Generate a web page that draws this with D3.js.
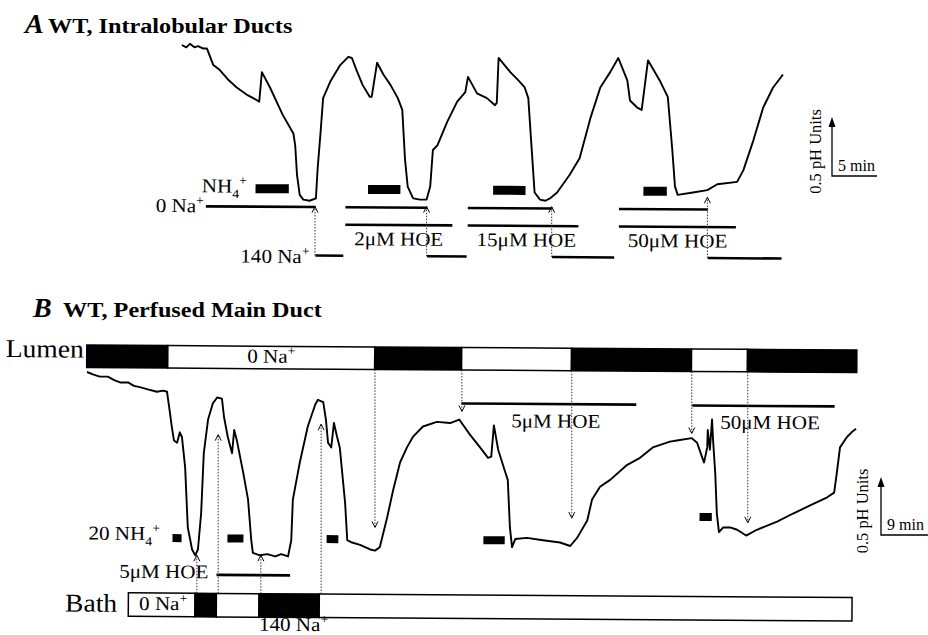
<!DOCTYPE html>
<html>
<head>
<meta charset="utf-8">
<title>WT pHi traces</title>
<script src="https://cdn.jsdelivr.net/npm/d3@7"></script>
<style>
  body { margin: 0; background: #fff; }
  svg text { font-family: "Liberation Serif", "DejaVu Serif", serif; fill: #000; }
</style>
</head>
<body>
<script>
// ---- panel A: intralobular ducts (time in min, pHi)
var timeA = [0.2,0.7,1.1,1.6,2.0,2.6,3.0,3.7,4.4,5.3,6.3,7.4,8.6,8.8,9.1,10.0,11.4,12.6,12.8,13.0,13.3,13.7,14.4,15.1,15.3,15.6,15.9,16.7,17.8,18.7,19.1,19.7,20.3,21.1,21.3,21.9,22.6,23.4,24.2,24.7,25.0,25.3,25.9,26.7,27.4,27.8,28.1,28.6,29.7,30.8,31.7,32.0,33.0,34.1,35.0,35.2,35.4,36.7,37.6,38.3,38.7,39.1,39.4,40.0,40.6,41.1,41.9,43.3,44.4,45.6,46.7,47.8,48.7,49.7,50.0,50.8,51.3,52.0,53.3,54.2,54.7,55.0,55.3,57.0,58.6,59.7,61.9,62.6,63.7,64.8,65.9,67.0];
var phA = [7.60,7.58,7.61,7.58,7.59,7.57,7.57,7.43,7.39,7.31,7.24,7.18,7.13,7.12,7.37,7.24,7.01,6.85,6.75,6.50,6.33,6.29,6.28,6.30,6.56,6.84,7.15,7.29,7.43,7.50,7.49,7.37,7.26,7.16,7.16,7.45,7.35,7.26,7.15,7.05,6.63,6.40,6.30,6.29,6.29,6.40,6.71,6.75,6.95,7.12,7.20,7.33,7.19,7.15,7.09,7.11,7.49,7.37,7.30,7.24,7.15,6.69,6.35,6.29,6.28,6.30,6.35,6.50,6.64,6.98,7.24,7.37,7.49,7.30,7.13,7.07,7.05,7.47,7.30,7.16,6.71,6.40,6.33,6.35,6.37,6.42,6.44,6.54,6.79,7.07,7.24,7.35];
var nh4A = [[8.3,12.0],[20.8,24.4],[34.7,38.3],[51.4,54.0]];
var naZeroA = [[2.8,15.0],[18.3,27.4],[31.9,41.3],[48.7,58.6]];
var hoeA = [[18.3,30.2],[31.9,44.2],[48.7,61.7]];
var hoeLabelA = ["2", "15", "50"];
var na140A = [[15.0,18.1],[27.4,31.8],[41.3,48.2],[58.6,66.8]];
var arrowTimeA = [15.0,27.4,41.3,58.6];
var arrowTipA = [6.23,6.23,6.23,6.31];

// ---- panel B: perfused main duct
var timeB = [0,1.1,2.4,3.9,5.1,6.2,7.7,8.8,9.9,11.4,13.1,14.3,15.0,15.4,15.9,16.3,16.9,17.4,17.8,18.4,18.9,19.7,20.3,20.8,21.4,21.9,22.7,23.6,24.4,25.3,25.7,26.4,27.2,27.6,28.1,29.3,30.2,30.8,31.1,32.4,33.8,35.3,36.4,37.7,38.3,38.6,39.9,41.4,42.8,43.3,44.3,44.8,45.2,45.8,46.3,46.9,47.4,48.4,48.8,49.7,51.2,53.1,54.0,54.9,56.3,57.4,58.7,60.0,61.1,63.0,65.6,68.1,69.8,71.8,73.7,75.2,75.8,76.3,77.1,78.4,78.9,79.3,79.7,80.3,82.5,85.5,88.7,90.6,91.9,93.8,94.7,96.2,98.1,101.3,103.7,106.1,109.3,110.6,113.4,114.4,115.3,115.7,116.3,116.4,116.8,117.2,117.4,117.8,118.1,118.5,119.3,120.6,121.9,123.6,125.6,129.4,132.4,135.6,138.8,140.1,140.6,141.2,142.5,143.6,144.2];
var phB = [7.70,7.68,7.66,7.66,7.63,7.61,7.61,7.58,7.57,7.55,7.53,7.54,7.53,7.40,7.23,7.11,7.09,7.18,7.14,6.88,6.36,6.17,6.12,6.17,6.48,7.00,7.29,7.43,7.48,7.47,7.31,7.14,7.00,7.20,7.11,6.83,6.60,6.25,6.14,6.12,6.13,6.11,6.13,6.11,6.25,6.60,6.92,7.23,7.42,7.46,7.44,7.29,7.09,7.05,7.26,7.14,7.05,6.57,6.25,6.23,6.21,6.17,6.16,6.19,6.45,6.68,6.92,7.05,7.14,7.23,7.27,7.26,7.29,7.16,7.05,6.96,6.97,7.24,7.03,6.84,6.77,6.36,6.19,6.26,6.27,6.25,6.23,6.20,6.27,6.42,6.60,6.71,6.77,6.90,6.96,7.05,7.10,7.11,7.13,7.09,6.97,6.92,7.05,7.20,7.03,7.29,7.11,6.83,6.48,6.32,6.36,6.36,6.34,6.29,6.34,6.41,6.48,6.55,6.62,6.66,6.83,7.05,7.14,7.19,7.21];
var lumenEdges = [0,15.2,54.0,70.3,90.9,113.4,123.9,144.4];
var lumenNa = [140,0,140,0,140,0,140];
var bathEdges = [8.1,20.6,24.6,32.6,43.9,143.8];
var bathNa = [0,140,0,140,0];
var nh4B = [[16.3,18.0],[26.6,29.6],[45.2,47.4],[74.6,78.6],[115.1,117.4]];
var hoeB = [[24.6,38.4],[70.3,103.1],[113.6,140.3]];
var bathArrowTime = [20.6,24.6,32.6,43.9];
var bathArrowTip = [6.12,7.16,6.12,7.25];
var lumenArrowTime = [54.0,70.3,90.9,113.4,123.9];
var lumenArrowTip = [6.36,7.36,6.44,7.17,6.40];

var width = 928, height = 635;
var svg = d3.select("body").append("svg")
    .attr("width", width)
    .attr("height", height);

// the scan is a bit rotated, the annotation bars follow it
var tilt = 0.37;
var slope = Math.tan(tilt * Math.PI / 180);
function tiltY(base, x) { return base + (x - 464) * slope; }
var ann = svg.append("g").attr("transform", "rotate(" + tilt + ",464,317)");

var xA = d3.scaleLinear().domain([0, 67]).range([180, 783]);
var yA = d3.scaleLinear().domain([7.6, 6.0]).range([45, 45 + 1.6 * 118]);
var xB = d3.scaleLinear().domain([0, 144]).range([87, 87 + 144 * 5.333]);
var yB = d3.scaleLinear().domain([7.7, 6.0]).range([372, 372 + 1.7 * 116]);

// text with sub/superscripts: parts = [[text, level]], level 1 = sub, -1 = sup
function label(g, x, y, parts, opt) {
    opt = opt || {};
    var size = opt.size || 19;
    var t = g.append("text")
        .attr("transform", "translate(" + x + "," + y + ")" +
            (opt.rotate ? " rotate(" + opt.rotate + ")" : "") +
            " scale(" + (opt.sx || 1.08) + ",1)")
        .attr("text-anchor", opt.anchor || "start")
        .attr("font-size", size)
        .attr("font-weight", opt.bold ? "bold" : null)
        .attr("font-style", opt.italic ? "italic" : null);
    var cur = 0;
    parts.forEach(function (p) {
        var lvl = p[1] || 0;
        var off = lvl === 1 ? 0.28 * size : (lvl === -1 ? -0.4 * size : 0);
        t.append("tspan")
            .attr("dy", off - cur)
            .attr("font-size", lvl ? size * 0.65 : size)
            .text(p[0]);
        cur = off;
    });
    return t;
}

function hline(g, x1, x2, y, w) {
    g.append("line")
        .attr("x1", x1).attr("x2", x2)
        .attr("y1", y).attr("y2", y)
        .attr("stroke", "#000")
        .attr("stroke-width", w || 2.6);
}

function dotArrow(x, y0, y1) {
    svg.append("line")
        .attr("x1", x).attr("x2", x)
        .attr("y1", y0).attr("y2", y1)
        .attr("stroke", "#333")
        .attr("stroke-width", 1)
        .attr("stroke-dasharray", "1.5,1.5");
    var d = y1 < y0 ? 1 : -1;
    svg.append("path")
        .attr("d", "M" + (x - 3) + "," + (y1 + 6 * d) + "L" + x + "," + y1 + "L" + (x + 3) + "," + (y1 + 6 * d))
        .attr("fill", "none")
        .attr("stroke", "#000")
        .attr("stroke-width", 1);
}

function scaleBar(x0, y0, hPx, wPx, minText, unitX) {
    svg.append("path")
        .attr("d", "M" + x0 + "," + (y0 - hPx + 6) + "V" + y0 + "H" + (x0 + wPx))
        .attr("fill", "none").attr("stroke", "#000").attr("stroke-width", 1.3);
    svg.append("path")
        .attr("d", "M" + (x0 - 3.5) + "," + (y0 - hPx + 10) + "L" + x0 + "," + (y0 - hPx) + "L" + (x0 + 3.5) + "," + (y0 - hPx + 10) + "Z")
        .attr("fill", "#000");
    label(svg, x0 + 6, y0 - 5, [[minText]], { size: 16, sx: 1.0 });
    label(svg, unitX, y0 - hPx / 2 + 5, [["0.5 pH Units"]], { size: 16, rotate: -90, anchor: "middle", sx: 1.03 });
}

var lineA = d3.line().x(function (d) { return xA(d[0]); }).y(function (d) { return yA(d[1]); });
var lineB = d3.line().x(function (d) { return xB(d[0]); }).y(function (d) { return yB(d[1]); });

// ================= panel A =================
label(svg, 25, 33, [["A"]], { size: 28, bold: true, italic: true, sx: 1 });
label(svg, 48, 33, [["WT, Intralobular Ducts"]], { size: 22, bold: true, sx: 1.1 });

svg.append("path")
    .datum(d3.zip(timeA, phA))
    .attr("d", lineA)
    .attr("fill", "none")
    .attr("stroke", "#000")
    .attr("stroke-width", 1.9)
    .attr("stroke-linejoin", "round");

ann.selectAll("rect.nh4a")
    .data(nh4A)
    .enter().append("rect")
    .attr("x", function (d) { return xA(d[0]); })
    .attr("width", function (d) { return xA(d[1]) - xA(d[0]); })
    .attr("y", 185.5)
    .attr("height", 9)
    .attr("fill", "#000");

naZeroA.forEach(function (d) { hline(ann, xA(d[0]), xA(d[1]), 208); });
hoeA.forEach(function (d, i) {
    hline(ann, xA(d[0]), xA(d[1]), 225.5);
    label(ann, xA(d[0]) + 9, 246, [[hoeLabelA[i] + "\u03bcM HOE"]], { size: 19.5 });
});
na140A.forEach(function (d) { hline(ann, xA(d[0]), xA(d[1]), 256.5); });

label(ann, 201, 194, [["NH"], ["4", 1], ["+", -1]], { size: 19.5 });
label(ann, 155, 214, [["0 Na"], ["+", -1]], { size: 19.5 });
label(ann, 240, 264, [["140 Na"], ["+", -1]], { size: 19.5 });

arrowTimeA.forEach(function (t, i) {
    var x = xA(t);
    dotArrow(x, tiltY(256.5, x), yA(arrowTipA[i]));
});

scaleBar(832, 176, yA(7.0) - yA(7.5), xA(5) - xA(0), "5 min", 821);

// ================= panel B =================
label(svg, 33, 317, [["B"]], { size: 28, bold: true, italic: true, sx: 1 });
label(svg, 63, 317, [["WT, Perfused Main Duct"]], { size: 22, bold: true, sx: 1.1 });

label(ann, 6, 360, [["Lumen"]], { size: 25.5 });
ann.append("g").selectAll("rect")
    .data(lumenNa)
    .enter().append("rect")
    .attr("x", function (d, i) { return xB(lumenEdges[i]); })
    .attr("width", function (d, i) { return xB(lumenEdges[i + 1]) - xB(lumenEdges[i]); })
    .attr("y", 347.5)
    .attr("height", 22.5)
    .attr("fill", function (d) { return d === 140 ? "#000" : "#fff"; })
    .attr("stroke", "#000")
    .attr("stroke-width", 1.5);
label(ann, (xB(lumenEdges[1]) + xB(lumenEdges[2])) / 2, 364, [["0 Na"], ["+", -1]], { size: 19.5, anchor: "middle" });

label(ann, 67, 614, [["Bath"]], { size: 25.5 });
ann.append("g").selectAll("rect")
    .data(bathNa)
    .enter().append("rect")
    .attr("x", function (d, i) { return xB(bathEdges[i]); })
    .attr("width", function (d, i) { return xB(bathEdges[i + 1]) - xB(bathEdges[i]); })
    .attr("y", 595)
    .attr("height", 23.5)
    .attr("fill", function (d) { return d === 140 ? "#000" : "#fff"; })
    .attr("stroke", "#000")
    .attr("stroke-width", 1.5);
label(ann, 141, 612, [["0 Na"], ["+", -1]], { size: 19.5 });
label(ann, 261, 632, [["140 Na"], ["+", -1]], { size: 19.5 });

svg.append("path")
    .datum(d3.zip(timeB, phB))
    .attr("d", lineB)
    .attr("fill", "none")
    .attr("stroke", "#000")
    .attr("stroke-width", 1.9)
    .attr("stroke-linejoin", "round");

ann.selectAll("rect.nh4b")
    .data(nh4B)
    .enter().append("rect")
    .attr("x", function (d) { return xB(d[0]); })
    .attr("width", function (d) { return xB(d[1]) - xB(d[0]); })
    .attr("y", function (d, i) { return i === 4 ? 511.5 : 536; })
    .attr("height", 8)
    .attr("fill", "#000");
label(ann, 90, 542, [["20 NH"], ["4", 1], ["+", -1]], { size: 19.5 });

hline(ann, xB(hoeB[0][0]), xB(hoeB[0][1]), 576.5);
label(ann, 121, 580, [["5\u03bcM HOE"]], { size: 19.5 });
hline(ann, xB(hoeB[1][0]), xB(hoeB[1][1]), 403.5);
label(ann, 512, 427, [["5\u03bcM HOE"]], { size: 19.5 });
hline(ann, xB(hoeB[2][0]), xB(hoeB[2][1]), 404);
label(ann, 721, 427, [["50\u03bcM HOE"]], { size: 19.5 });

bathArrowTime.forEach(function (t, i) {
    var x = xB(t);
    dotArrow(x, tiltY(595, x), yB(bathArrowTip[i]));
});
lumenArrowTime.forEach(function (t, i) {
    var x = xB(t);
    dotArrow(x, tiltY(370, x), yB(lumenArrowTip[i]));
});

scaleBar(881, 535, yB(7.0) - yB(7.5), xB(9) - xB(0), "9 min", 868);
</script>
</body>
</html>
